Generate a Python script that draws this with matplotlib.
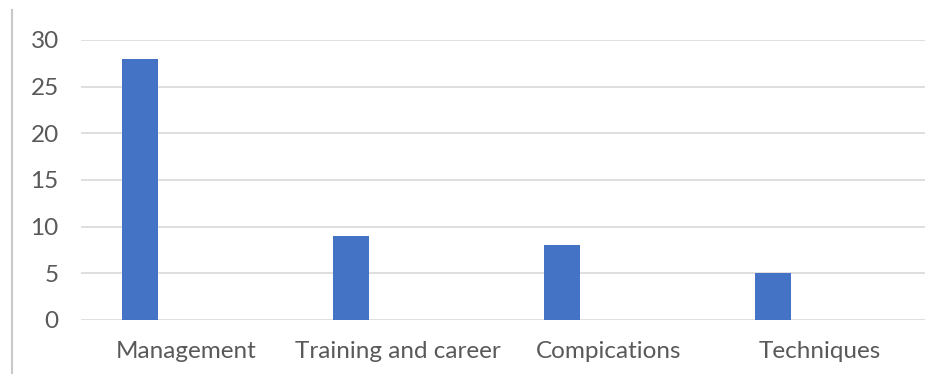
import numpy as np
import matplotlib.pyplot as plt
from matplotlib.lines import Line2D

categories = ["Management", "Training and career", "Compications", "Techniques"]
values = [28, 9, 8, 5]
yticks = [0, 5, 10, 15, 20, 25, 30]

plt.rcParams['font.family'] = ['Lato', 'DejaVu Sans']

fig = plt.figure(figsize=(9.37, 3.74), dpi=100)
ax = fig.add_axes([81 / 937, 1 - 320 / 374, 844 / 937, 280 / 374])

x = np.arange(len(categories))
# bar sits left of the category centre (empty second series in the original)
ax.bar(x - 0.22, values, width=0.17, color="#4472C4", zorder=3)

ax.set_xlim(-0.5, len(categories) - 0.5)
ax.set_ylim(0, 30)
ax.set_yticks(yticks)
ax.set_xticks(x)
ax.set_xticklabels(categories)

ax.grid(axis="y", color="#d9d9d9", linewidth=1.2, zorder=0)
for s in ax.spines.values():
    s.set_visible(False)
ax.tick_params(length=0, labelsize=17.5, labelcolor="#595959")
ax.tick_params(axis="y", pad=16)
ax.tick_params(axis="x", pad=15)

# left border of the chart frame
fig.add_artist(Line2D([12 / 937, 12 / 937], [0, 1 - 10 / 374],
                      color="#c8c8c8", linewidth=1.5))

fig.savefig("out.png", dpi=100)
